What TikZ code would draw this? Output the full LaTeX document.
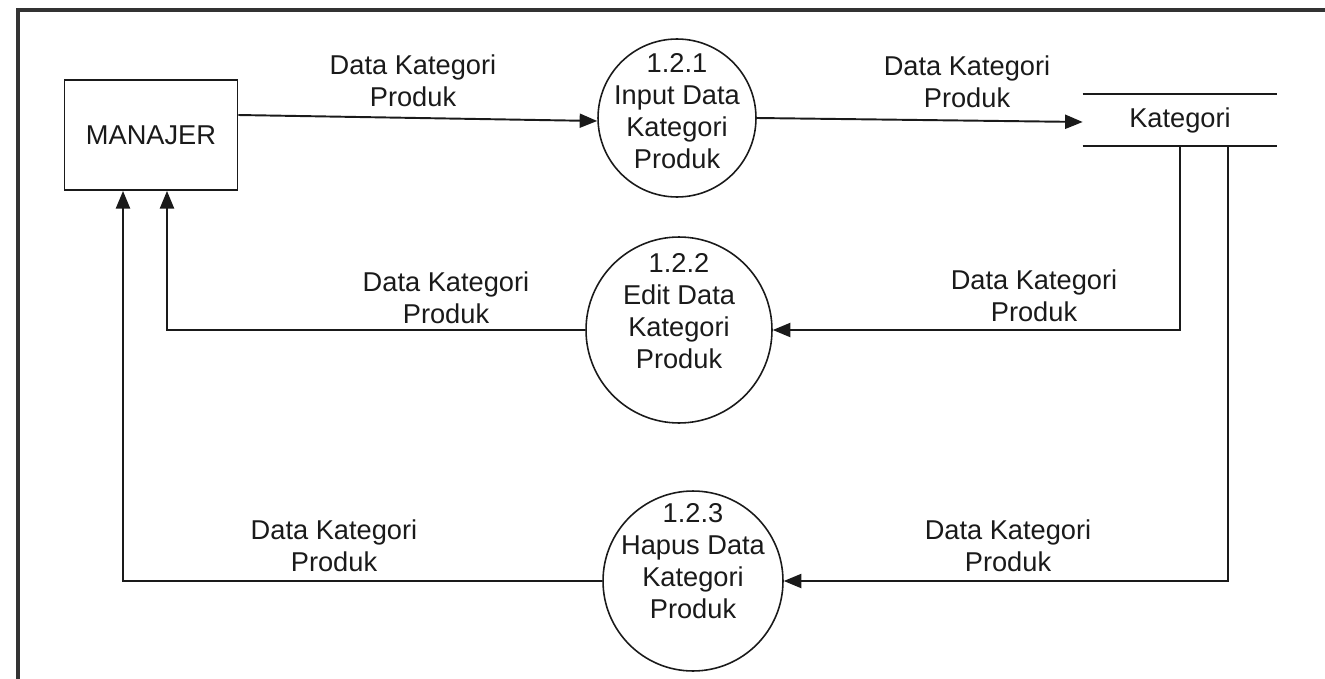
\documentclass[tikz,border=0pt]{standalone}
\usepackage{fontspec}
\setmainfont{Liberation Sans}
\usepackage{tikz}
\usetikzlibrary{arrows.meta, positioning, calc}
\definecolor{lineDark}{HTML}{1A1A1A}
\definecolor{frameGray}{HTML}{333333}

\begin{document}
\begin{tikzpicture}[
    x=0.02cm, y=-0.02cm,
    every node/.style={
        font=\fontsize{15.5}{18.2}\selectfont, text=lineDark, align=center
    },
    entity/.style={draw=lineDark, line width=1.1pt, minimum width=3.46cm, minimum height=2.2cm},
    process/.style={draw=lineDark, line width=0.9pt, circle, inner sep=0pt},
    datastore/.style={minimum width=3.88cm, minimum height=1.02cm},
    dataflow/.style={-{Triangle[length=10pt, width=8pt]}, line width=1.1pt, draw=lineDark}
]
    \useasboundingbox (0,0) rectangle (1325,679);
    \draw[frameGray, line width=2.2pt] (18,679) -- (18,10) -- (1325,10);

    \node[entity] (man) at (151,135) {MANAJER};
    \node[datastore] (kat) at (1180,120) {Kategori};
    \draw[lineDark, line width=1.1pt] (kat.north west) -- (kat.north east);
    \draw[lineDark, line width=1.1pt] (kat.south west) -- (kat.south east);

    \node[process, minimum size=3.16cm] (p1) at (677,118) {};
    \node[process, minimum size=3.72cm] (p2) at (679,330) {};
    \node[process, minimum size=3.6cm] (p3) at (693,581) {};
    \node (t1) at (677,111) {1.2.1\\Input Data\\Kategori\\Produk};
    \node (t2) at (679,311) {1.2.2\\Edit Data\\Kategori\\Produk};
    \node (t3) at (693,561) {1.2.3\\Hapus Data\\Kategori\\Produk};

    \draw[dataflow] ([yshift=0.4cm]man.east) -- ([yshift=-0.06cm]p1.west);
    \draw[dataflow] (p1.east) -- ([yshift=-0.04cm]kat.west);
    \draw[dataflow] (kat.south) |- (p2.east);
    \draw[dataflow] ([xshift=0.96cm]kat.south) |- (p3.east);
    \draw[dataflow] (p2.west) -| ([xshift=0.32cm]man.south);
    \draw[dataflow] (p3.west) -| ([xshift=-0.56cm]man.south);

    % flow labels
    \node (l1) at (413,81) {Data Kategori\\Produk};
    \node (l2) at (967,82) {Data Kategori\\Produk};
    \node (l3) at (446,298) {Data Kategori\\Produk};
    \node (l4) at (1034,296) {Data Kategori\\Produk};
    \node (l5) at (334,546) {Data Kategori\\Produk};
    \node (l6) at (1008,546) {Data Kategori\\Produk};
\end{tikzpicture}
\end{document}
